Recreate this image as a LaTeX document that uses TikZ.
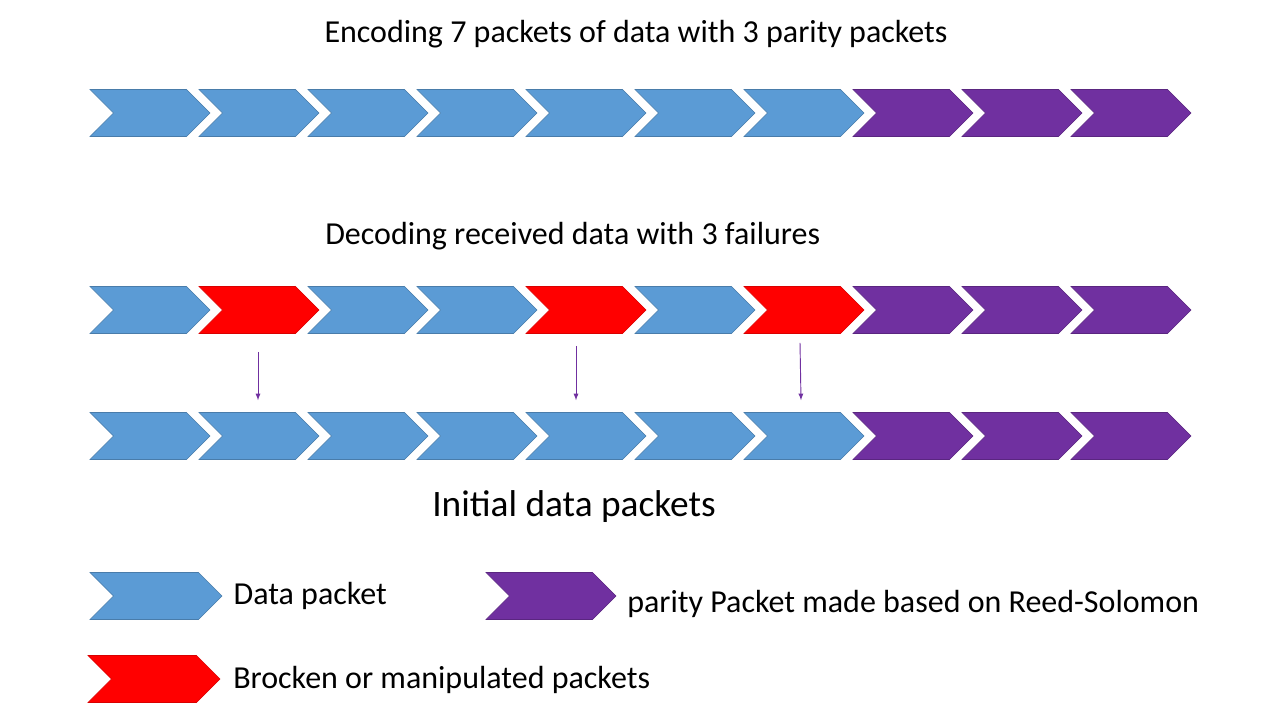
\documentclass[tikz,border=0pt]{standalone}
\usepackage{fontspec}
\setmainfont{Carlito}
\usepackage{xcolor}
\usetikzlibrary{shapes.symbols, positioning, calc, arrows}

\definecolor{datab}{HTML}{5B9BD5}
\definecolor{parityp}{HTML}{7030A0}
\definecolor{brokenr}{HTML}{FF0000}

\begin{document}
\begin{tikzpicture}[x=0.75pt, y=-0.75pt]

		\tikzstyle{packet}=[signal, signal to=east, signal from=west, signal pointer angle=90, minimum width=90pt, minimum height=35.25pt, inner sep=0pt, line width=0.4pt]
		\tikzstyle{datap}=[packet, fill=datab, draw=datab!80!black]
		\tikzstyle{parp}=[packet, fill=parityp, draw=parityp!80!black]
		\tikzstyle{badp}=[packet, fill=brokenr, draw=brokenr!85!black]
		\tikzstyle{txt}=[inner sep=0pt, font=\fontsize{24}{29}\selectfont]
		\tikzstyle{fix}=[draw=parityp, line width=0.7pt, -latex]

		\useasboundingbox (0,0) rectangle (1280,720);

		%% encoding row
		\node (title) at (636,34) [txt] {Encoding 7 packets of data with 3 parity packets};
		\foreach \i in {1,...,7}
			\node (a\i) at ({150+109*(\i-1)},113) [datap] {};
		\foreach \i in {8,9,10}
			\node (a\i) at ({150+109*(\i-1)},113) [parp] {};

		%% decoding row
		\node (dec) at (325,236) [txt, anchor=west] {Decoding received data with 3 failures};
		\foreach \i in {1,3,4,6}
			\node (b\i) at ({150+109*(\i-1)},310) [datap] {};
		\foreach \i in {2,5,7}
			\node (b\i) at ({150+109*(\i-1)},310) [badp] {};
		\foreach \i in {8,9,10}
			\node (b\i) at ({150+109*(\i-1)},310) [parp] {};

		%% recovered row
		\foreach \i in {1,...,7}
			\node (c\i) at ({150+109*(\i-1)},436) [datap] {};
		\foreach \i in {8,9,10}
			\node (c\i) at ({150+109*(\i-1)},436) [parp] {};
		\node (init) at (574,507) [txt, font=\fontsize{28}{34}\selectfont] {Initial data packets};

		\draw [fix] ($(b2.south)+(-1,18)$) -- ($(c2.north)+(-1,-12)$);
		\draw [fix] ($(b5.south)+(-10,12)$) -- ($(c5.north)+(-10,-12)$);
		\draw [fix] ($(b7.south)+(-4,9)$) -- ($(c7.north)+(-3,-12)$);

		%% legend
		\node (ld) at (156,596) [datap, minimum width=99pt] {};
		\node (ldt) [txt, right=8.25pt of ld] {Data packet};
		\node (lp) at (551,596) [parp, minimum width=97.5pt] {};
		\node (lpt) at (627,604) [txt, anchor=west] {parity Packet made based on Reed-Solomon};
		\node (lb) at (154,679) [badp, minimum width=99pt] {};
		\node (lbt) at (233,680) [txt, anchor=west] {Brocken or manipulated packets};

\end{tikzpicture}
\end{document}
